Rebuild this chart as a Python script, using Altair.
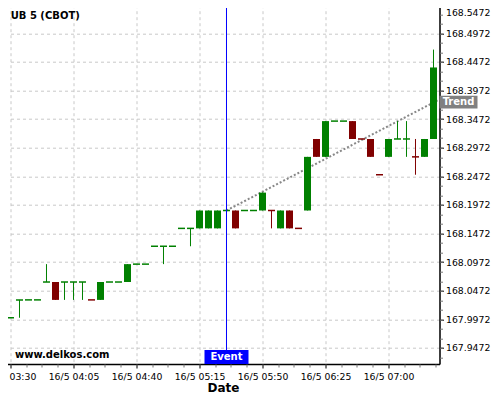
import altair as alt
import pandas as pd

# ---------------- data ----------------
times = ["03:30", "03:35", "03:40", "03:45", "03:50", "03:55", "04:00", "04:05",
         "04:10", "04:15", "04:20", "04:25", "04:30", "04:35", "04:40", "04:45",
         "04:50", "04:55", "05:00", "05:05", "05:10", "05:15", "05:20", "05:25",
         "05:30", "05:35", "05:40", "05:45", "05:50", "05:55", "06:00", "06:05",
         "06:10", "06:15", "06:20", "06:25", "06:30", "06:35", "06:40", "06:45",
         "06:50", "06:55", "07:00", "07:05", "07:10", "07:15", "07:20", "07:25"]

opens = [168.0, 168.03125, 168.03125, 168.03125, 168.0625, 168.0625, 168.0625, 168.0625,
         168.0625, 168.03125, 168.03125, 168.0625, 168.0625, 168.0625, 168.09375, 168.09375,
         168.125, 168.125, 168.125, 168.15625, 168.15625, 168.15625, 168.15625, 168.15625,
         168.1875, 168.1875, 168.1875, 168.1875, 168.1875, 168.1875, 168.15625, 168.1875,
         168.15625, 168.1875, 168.3125, 168.28125, 168.34375, 168.34375, 168.34375, 168.3125,
         168.3125, 168.25, 168.28125, 168.3125, 168.3125, 168.28125, 168.28125, 168.3125]

closes = [168.0, 168.03125, 168.03125, 168.03125, 168.0625, 168.03125, 168.0625, 168.0625,
          168.0625, 168.03125, 168.0625, 168.0625, 168.0625, 168.09375, 168.09375, 168.09375,
          168.125, 168.125, 168.125, 168.15625, 168.15625, 168.1875, 168.1875, 168.1875,
          168.1875, 168.15625, 168.1875, 168.1875, 168.21875, 168.1875, 168.1875, 168.15625,
          168.15625, 168.28125, 168.28125, 168.34375, 168.34375, 168.34375, 168.3125, 168.3125,
          168.28125, 168.25, 168.3125, 168.3125, 168.3125, 168.28125, 168.3125, 168.4375]

highs = [168.0, 168.03125, 168.03125, 168.03125, 168.09375, 168.0625, 168.0625, 168.0625,
         168.0625, 168.03125, 168.0625, 168.0625, 168.0625, 168.09375, 168.09375, 168.09375,
         168.125, 168.125, 168.125, 168.15625, 168.15625, 168.1875, 168.1875, 168.1875,
         168.1875, 168.1875, 168.1875, 168.1875, 168.21875, 168.1875, 168.1875, 168.1875,
         168.15625, 168.28125, 168.3125, 168.34375, 168.34375, 168.34375, 168.34375, 168.3125,
         168.3125, 168.25, 168.3125, 168.34375, 168.34375, 168.3125, 168.3125, 168.46875]

lows = [168.0, 168.0, 168.03125, 168.03125, 168.0625, 168.03125, 168.03125, 168.03125,
        168.03125, 168.03125, 168.03125, 168.0625, 168.0625, 168.0625, 168.09375, 168.09375,
        168.125, 168.09375, 168.125, 168.15625, 168.125, 168.15625, 168.15625, 168.15625,
        168.1875, 168.15625, 168.1875, 168.1875, 168.1875, 168.15625, 168.15625, 168.15625,
        168.15625, 168.1875, 168.28125, 168.28125, 168.34375, 168.34375, 168.3125, 168.3125,
        168.28125, 168.25, 168.28125, 168.3125, 168.28125, 168.25, 168.28125, 168.3125]

directions = ["up", "up", "up", "up", "up", "down", "up", "up",
              "up", "down", "up", "up", "up", "up", "up", "up",
              "up", "up", "up", "up", "up", "up", "up", "up",
              "up", "down", "up", "up", "up", "down", "up", "down",
              "down", "up", "down", "up", "up", "up", "down", "down",
              "down", "down", "up", "up", "up", "down", "up", "up"]

trend_times = ["05:30", "07:28:20"]
trend_prices = [168.1875, 168.3817]
event_time = "05:30"

x_domain_times = ["03:27:47", "07:28:20"]
y_domain = [167.9192, 168.5472]

x_tick_times = ["03:30", "04:05", "04:40", "05:15", "05:50", "06:25", "07:00"]
x_tick_labels = ["16/5 03:30", "16/5 04:05", "16/5 04:40", "16/5 05:15",
                 "16/5 05:50", "16/5 06:25", "16/5 07:00"]
y_tick_values = [167.9472, 167.9972, 168.0472, 168.0972, 168.1472, 168.1972, 168.2472,
                 168.2972, 168.3472, 168.3972, 168.4472, 168.4972, 168.5472]

title_text = "UB 5 (CBOT)"
watermark_text = "www.delkos.com"
event_text = "Event"
trend_text = "Trend"


def minutes(s):
    parts = [int(p) for p in s.split(":")]
    return parts[0] * 60 + parts[1] + (parts[2] / 60 if len(parts) > 2 else 0)


# ---------------- tables ----------------
df = pd.DataFrame({
    "t": [minutes(s) for s in times],
    "open": opens, "close": closes, "high": highs, "low": lows,
    "dir": directions,
})
flat = df[df["open"] == df["close"]]

x_dom = [minutes(s) for s in x_domain_times]
x_tick_values = [minutes(s) for s in x_tick_times]
x_minor = [x_tick_values[0] + 8.75 * i for i in range(28)]
y_step = (y_tick_values[1] - y_tick_values[0]) / 3
y_minor = [round(y_tick_values[0] - y_step + y_step * i, 5) for i in range(38)]

trend_df = pd.DataFrame({"t": [minutes(s) for s in trend_times], "p": trend_prices})
trend_end = trend_df.tail(1).assign(label=trend_text)
event_df = pd.DataFrame({"t": [minutes(event_time)], "p": [y_domain[0]], "label": [event_text]})
mark_df = pd.DataFrame({"t": [x_dom[0]], "p": [y_domain[0]], "label": [watermark_text]})
title_df = pd.DataFrame({"t": [x_dom[0]], "p": [y_domain[1]], "label": [title_text]})

# ---------------- scales & axes ----------------
xs = alt.Scale(domain=x_dom, nice=False, zero=False)
ys = alt.Scale(domain=y_domain, nice=False, zero=False)
color = alt.Color("dir:N", scale=alt.Scale(domain=["up", "down"], range=["#008000", "#800000"]),
                  legend=None)

label_expr = ("[" + ",".join("'%s'" % l for l in x_tick_labels) + "][indexof(["
              + ",".join(str(v) for v in x_tick_values) + "], datum.value)]")

FONT = "DejaVu Sans"
major_x = alt.Axis(orient="bottom", values=x_tick_values, labelExpr=label_expr,
                   grid=True, gridColor="#c8c8c8", gridDash=[3, 3], gridWidth=1,
                   tickSize=4, tickColor="black", domainColor="black", domainWidth=1.5,
                   labelFont=FONT, labelFontSize=9.3, labelColor="black", labelPadding=4,
                   labelFlush=False, labelOverlap=False,
                   title="Date", titleFont=FONT, titleFontSize=12, titleFontWeight="bold",
                   titleColor="black", titlePadding=1.5)
# the top label would sit above the page edge: nudge only that one down so it stays visible
top_label_shift = {"condition": {"test": "datum.value > %s" % (y_tick_values[-1] - 0.01),
                                 "value": 7.5}, "value": 0}
major_y = alt.Axis(orient="right", values=y_tick_values, format=".4f",
                   grid=True, gridColor="#c8c8c8", gridDash=[3, 3], gridWidth=1,
                   tickSize=4, tickColor="black", domainColor="black", domainWidth=1.5,
                   labelFont=FONT, labelFontSize=9.3, labelColor="black", labelPadding=2,
                   labelOffset=top_label_shift,
                   labelFlush=False, labelOverlap=False, title=None)
minor_x = alt.Axis(orient="bottom", values=x_minor, labels=False, grid=False, domain=False,
                   tickSize=3, tickColor="#777777", title=None)
minor_y = alt.Axis(orient="right", values=y_minor, labels=False, grid=False, domain=False,
                   tickSize=3, tickColor="#777777", title=None)

# ---------------- layers ----------------
trend = alt.Chart(trend_df).mark_line(color="#888888", strokeWidth=2, strokeDash=[2, 2]).encode(
    x=alt.X("t:Q", scale=xs, axis=None), y=alt.Y("p:Q", scale=ys, axis=None))

wicks = alt.Chart(df).mark_rule(strokeWidth=1, opacity=1).encode(
    x=alt.X("t:Q", scale=xs, axis=major_x),
    y=alt.Y("low:Q", scale=ys, axis=major_y), y2="high:Q", color=color)

bodies = alt.Chart(df).mark_rect(xOffset=-3.5, x2Offset=3.5, opacity=1).encode(
    x=alt.X("t:Q", scale=xs, axis=minor_x), x2="t:Q",
    y=alt.Y("open:Q", scale=ys, axis=minor_y), y2="close:Q", color=color)

flats = alt.Chart(flat).mark_tick(orient="horizontal", size=7, thickness=1.5, opacity=1).encode(
    x=alt.X("t:Q", scale=xs, axis=None), y=alt.Y("close:Q", scale=ys, axis=None), color=color)

event_rule = alt.Chart(event_df).mark_rule(color="#0000ff", strokeWidth=1).encode(
    x=alt.X("t:Q", scale=xs, axis=None))

event_box = alt.Chart(event_df).mark_rect(color="#0000ff", xOffset=-22, x2Offset=22,
                                          yOffset=-14, y2Offset=0).encode(
    x=alt.X("t:Q", scale=xs, axis=None), x2="t:Q",
    y=alt.Y("p:Q", scale=ys, axis=None), y2="p:Q")
event_label = alt.Chart(event_df).mark_text(color="white", font=FONT, fontSize=10,
                                            fontWeight="bold", align="center",
                                            baseline="middle", dy=-7).encode(
    x=alt.X("t:Q", scale=xs, axis=None), y=alt.Y("p:Q", scale=ys, axis=None), text="label:N")

trend_box = alt.Chart(trend_end).mark_rect(color="#808080", xOffset=0, x2Offset=38,
                                           yOffset=-3.6, y2Offset=9).encode(
    x=alt.X("t:Q", scale=xs, axis=None), x2="t:Q",
    y=alt.Y("p:Q", scale=ys, axis=None), y2="p:Q")
trend_label = alt.Chart(trend_end).mark_text(color="white", font=FONT, fontSize=10,
                                             fontWeight="bold", align="center",
                                             baseline="middle", dx=19, dy=2.7).encode(
    x=alt.X("t:Q", scale=xs, axis=None), y=alt.Y("p:Q", scale=ys, axis=None), text="label:N")

watermark = alt.Chart(mark_df).mark_text(color="black", font=FONT, fontSize=10,
                                         fontWeight="bold", align="left",
                                         baseline="alphabetic", dx=8.5, dy=-6).encode(
    x=alt.X("t:Q", scale=xs, axis=None), y=alt.Y("p:Q", scale=ys, axis=None), text="label:N")

title = alt.Chart(title_df).mark_text(color="black", font=FONT, fontSize=10,
                                      fontWeight="bold", align="left",
                                      baseline="alphabetic", dx=4.2, dy=13.8).encode(
    x=alt.X("t:Q", scale=xs, axis=None), y=alt.Y("p:Q", scale=ys, axis=None), text="label:N")

chart = alt.layer(
    trend, wicks, bodies, flats, event_rule, event_box, event_label,
    trend_box, trend_label, watermark, title,
).resolve_axis(x="independent", y="independent").properties(
    width=433, height=359.3,
    autosize=alt.AutoSizeParams(type="none"),
    padding={"left": -1.5, "top": -3.3, "right": 52.5, "bottom": 32},
).configure_view(stroke=None).configure(background="white")

chart.save("out.html", embed_options={"renderer": "svg", "actions": False})
